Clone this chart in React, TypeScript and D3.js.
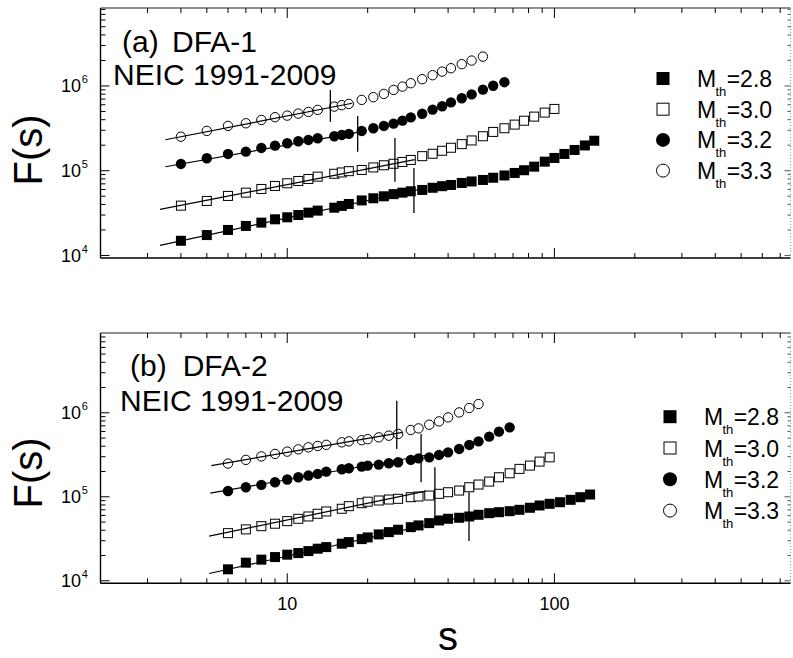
import React from 'react';
import * as d3 from 'd3';

const FONT = "'Liberation Sans', Arial, Helvetica, sans-serif";

// legend categories
const thresholds = ['2.8', '3.0', '3.2', '3.3'];
const markerKinds = ['filledSquare', 'openSquare', 'filledCircle', 'openCircle'];

// scale grids (s values)
const sGridA = [4, 5, 6, 7, 8, 9, 10, 11, 12, 13, 15, 16, 17, 19, 21, 23, 25, 27, 29, 32, 35, 38, 41, 45, 49, 54, 59, 65, 71, 77, 84, 92, 100, 109, 119, 130, 141];
const sGridB = [6, 7, 8, 9, 10, 11, 12, 13, 14, 16, 17, 19, 20, 22, 24, 26, 29, 31, 34, 37, 40, 44, 48, 52, 57, 62, 68, 74, 81, 88, 96, 105, 115, 125, 136];

// panel (a) DFA-1 fluctuation functions
const fA28 = [1.49e4, 1.74e4, 2.0e4, 2.23e4, 2.44e4, 2.67e4, 2.82e4, 3.0e4, 3.2e4, 3.38e4, 3.66e4, 3.84e4, 4.05e4, 4.46e4, 4.73e4, 4.99e4, 5.29e4, 5.51e4, 5.72e4, 5.93e4, 6.29e4, 6.57e4, 6.79e4, 7.17e4, 7.47e4, 7.78e4, 8.26e4, 8.79e4, 9.41e4, 1.013e5, 1.117e5, 1.279e5, 1.415e5, 1.577e5, 1.758e5, 1.987e5, 2.258e5];
const fA30 = [3.87e4, 4.4e4, 5.04e4, 5.51e4, 6.09e4, 6.61e4, 7.11e4, 7.57e4, 7.99e4, 8.51e4, 9.2e4, 9.54e4, 9.88e4, 1.021e5, 1.093e5, 1.16e5, 1.208e5, 1.269e5, 1.34e5, 1.485e5, 1.585e5, 1.72e5, 1.866e5, 2.059e5, 2.276e5, 2.552e5, 2.87e5, 3.17e5, 3.5e5, 3.89e5, 4.35e5, 4.85e5, 5.36e5];
const fA32 = [1.202e5, 1.403e5, 1.577e5, 1.679e5, 1.857e5, 1.976e5, 2.11e5, 2.228e5, 2.307e5, 2.416e5, 2.552e5, 2.643e5, 2.717e5, 2.947e5, 3.17e5, 3.376e5, 3.594e5, 3.9e5, 4.254e5, 4.705e5, 5.26e5, 5.77e5, 6.4e5, 7.17e5, 7.95e5, 9.06e5, 1.007e6, 1.108e6];
const fA33 = [2.52e5, 2.95e5, 3.38e5, 3.63e5, 3.97e5, 4.28e5, 4.47e5, 4.72e5, 4.94e5, 5.22e5, 5.71e5, 5.93e5, 6.14e5, 6.85e5, 7.37e5, 8.06e5, 8.98e5, 9.83e5, 1.078e6, 1.202e6, 1.34e6, 1.477e6, 1.62e6, 1.807e6, 1.993e6, 2.22e6];

// panel (b) DFA-2 fluctuation functions
const fB28 = [1.369e4, 1.643e4, 1.784e4, 1.916e4, 2.046e4, 2.137e4, 2.257e4, 2.41e4, 2.518e4, 2.764e4, 2.887e4, 3.134e4, 3.283e4, 3.565e4, 3.796e4, 4.053e4, 4.35e4, 4.56e4, 4.857e4, 5.226e4, 5.474e4, 5.626e4, 5.83e4, 6.107e4, 6.38e4, 6.56e4, 6.74e4, 7.0e4, 7.4e4, 7.88e4, 8.25e4, 8.62e4, 9.2e4, 9.89e4, 1.064e5];
const fB30 = [3.69e4, 4.09e4, 4.47e4, 4.78e4, 5.13e4, 5.47e4, 5.83e4, 6.28e4, 6.69e4, 7.2e4, 7.73e4, 8.39e4, 8.74e4, 9.03e4, 9.28e4, 9.46e4, 9.89e4, 1.008e5, 1.035e5, 1.085e5, 1.133e5, 1.187e5, 1.299e5, 1.399e5, 1.518e5, 1.708e5, 1.905e5, 2.149e5, 2.352e5, 2.624e5, 2.95e5];
const fB32 = [1.171e5, 1.299e5, 1.388e5, 1.49e5, 1.604e5, 1.708e5, 1.789e5, 1.875e5, 1.996e5, 2.126e5, 2.185e5, 2.288e5, 2.352e5, 2.417e5, 2.505e5, 2.574e5, 2.75e5, 2.87e5, 2.95e5, 3.15e5, 3.383e5, 3.713e5, 4.143e5, 4.57e5, 5.2e5, 5.96e5, 6.7e5];
const fB33 = [2.485e5, 2.75e5, 3.025e5, 3.24e5, 3.45e5, 3.67e5, 3.88e5, 4.03e5, 4.155e5, 4.45e5, 4.57e5, 4.72e5, 4.85e5, 5.1e5, 5.34e5, 5.6e5, 6.24e5, 6.52e5, 7.21e5, 7.9e5, 8.81e5, 1.01e6, 1.14e6, 1.271e6];

// power-law fits: [sStart, FStart, sEnd, FEnd]
const fitsA = [[3.34, 1.318e4, 32, 6.12e4], [3.34, 3.49e4, 30, 1.354e5], [3.5, 1.113e5, 19, 2.894e5], [3.5, 2.32e5, 17.5, 6.25e5]];
const fitsB = [[5.1, 1.22e4, 50, 6.17e4], [5.1, 3.4e4, 33, 1.166e5], [5.15, 1.103e5, 33, 3.12e5], [5.2, 2.35e5, 27, 5.85e5]];

// crossover markers: [s, Flow, Fhigh]
const crossA = [[29.8, 3.17e4, 1.078e5], [25.3, 7.43e4, 2.44e5], [18.35, 1.679e5, 4.43e5], [14.5, 3.77e5, 8.98e5]];
const crossB = [[47.9, 2.97e4, 1.133e5], [35.7, 5.99e4, 2.245e5], [31.7, 1.49e5, 5.6e5], [25.7, 3.71e5, 1.391e6]];

const xTickLabels = ['10', '100'];

const panelsData = [
  { tag: '(a)', method: 'DFA-1', catalog: 'NEIC 1991-2009', grid: sGridA, series: [fA28, fA30, fA32, fA33], fits: fitsA, cross: crossA },
  { tag: '(b)', method: 'DFA-2', catalog: 'NEIC 1991-2009', grid: sGridB, series: [fB28, fB30, fB32, fB33], fits: fitsB, cross: crossB },
];

const layouts = [
  { top: 8, bottom: 258, logMin: 3.97, logMax: 6.92, tagX: 122, methodX: 172, tagY: 52, catX: 113, catY: 85, legX: 663, legTextX: 697, legY0: 78.5, legDy: 30.7, fsY: 150, xLabels: false },
  { top: 333, bottom: 583.3, logMin: 3.97, logMax: 6.95, tagX: 130, methodX: 182.7, tagY: 376, catX: 120, catY: 410.7, legX: 670, legTextX: 704, legY0: 416.7, legDy: 31.3, fsY: 473, xLabels: true },
];

const LEFT = 100.5;
const RIGHT = 790.5;

function Marker({ kind, cx, cy, big }: { kind: string; cx: number; cy: number; big?: boolean }) {
  const sq = big ? 13 : 10;
  const r = big ? 7 : 5.2;
  if (kind === 'filledSquare') return <rect x={cx - sq / 2} y={cy - sq / 2} width={sq} height={sq} fill="#000" />;
  if (kind === 'openSquare') return <rect x={cx - (sq - 1) / 2} y={cy - (sq - 1) / 2} width={sq - 1} height={sq - 1} fill="#fff" stroke="#000" strokeWidth={1} />;
  if (kind === 'filledCircle') return <circle cx={cx} cy={cy} r={r} fill="#000" />;
  return <circle cx={cx} cy={cy} r={r - 0.5} fill="#fff" stroke="#000" strokeWidth={1} />;
}

function Panel({ d, L, x }: { d: any; L: any; x: any }) {
  const y = d3.scaleLog().domain([Math.pow(10, L.logMin), Math.pow(10, L.logMax)]).range([L.bottom, L.top]);
  const xTicks: { v: number; major: boolean }[] = [];
  [0, 1, 2].forEach((n) => {
    for (let k = 1; k <= 9; k++) {
      const v = k * Math.pow(10, n);
      if (v > 2.05 && v < 760) xTicks.push({ v, major: k === 1 });
    }
  });
  const yTicks: { v: number; major: boolean; n: number }[] = [];
  [3, 4, 5, 6].forEach((n) => {
    for (let k = 1; k <= 9; k++) {
      const v = k * Math.pow(10, n);
      const lv = Math.log10(v);
      if (lv > L.logMin + 0.003 && lv < L.logMax - 0.003) yTicks.push({ v, major: k === 1, n });
    }
  });
  const line = d3.line<[number, number]>().x((p) => x(p[0])).y((p) => y(p[1]));

  return (
    <g>
      {d.series.map((ser: number[], i: number) => (
        <g key={'s' + i}>
          {ser.map((f: number, j: number) => (
            <Marker key={j} kind={markerKinds[i]} cx={x(d.grid[j])} cy={y(f)} />
          ))}
        </g>
      ))}
      {d.fits.map((ft: number[], i: number) => (
        <path key={'f' + i} d={line([[ft[0], ft[1]], [ft[2], ft[3]]]) || ''} stroke="#000" strokeWidth={1.2} fill="none" />
      ))}
      {d.cross.map((c: number[], i: number) => (
        <line key={'c' + i} x1={x(c[0])} x2={x(c[0])} y1={y(c[1])} y2={y(c[2])} stroke="#000" strokeWidth={1.3} />
      ))}

      <line x1={LEFT} x2={RIGHT} y1={L.top} y2={L.top} stroke="#222" strokeWidth={1.2} />
      <line x1={LEFT} x2={RIGHT} y1={L.bottom} y2={L.bottom} stroke="#000" strokeWidth={1.4} />
      <line x1={LEFT} x2={LEFT} y1={L.top} y2={L.bottom} stroke="#000" strokeWidth={1.4} />
      <line x1={RIGHT} x2={RIGHT} y1={L.top} y2={L.bottom} stroke="#999" strokeWidth={1} strokeDasharray="1 2" />

      {xTicks.map((t, i) => {
        const xx = x(t.v);
        const len = t.major ? 10 : 5;
        return (
          <g key={'xt' + i}>
            <line x1={xx} x2={xx} y1={L.bottom} y2={L.bottom - len} stroke="#000" strokeWidth={1} />
            <line x1={xx} x2={xx} y1={L.top} y2={L.top + len} stroke="#000" strokeWidth={1} />
          </g>
        );
      })}
      {yTicks.map((t, i) => {
        const yy = y(t.v);
        const len = t.major ? 9 : 5;
        return (
          <g key={'yt' + i}>
            <line x1={LEFT} x2={LEFT + len} y1={yy} y2={yy} stroke="#000" strokeWidth={1} />
            <line x1={RIGHT} x2={RIGHT - (t.major ? 6 : 3)} y1={yy} y2={yy} stroke="#555" strokeWidth={1} />
          </g>
        );
      })}
      {yTicks.filter((t) => t.major).map((t, i) => {
        const yy = y(t.v);
        return (
          <g key={'yl' + i} fontFamily={FONT} fill="#000">
            <text x={81} y={yy + 6.5} style={{ fontSize: '18px' }} textAnchor="end">10</text>
            <text x={81.8} y={yy - 2.5} style={{ fontSize: '11px' }}>{t.n}</text>
          </g>
        );
      })}
      {L.xLabels && xTicks.filter((t) => t.major).map((t, i) => (
        <text key={'xl' + i} x={x(t.v)} y={610} style={{ fontSize: '18px' }} textAnchor="middle" fontFamily={FONT}>{xTickLabels[i]}</text>
      ))}

      <text x={L.tagX} y={L.tagY} style={{ fontSize: '30px' }} fontFamily={FONT}>{d.tag}</text>
      <text x={L.methodX} y={L.tagY} style={{ fontSize: '30px' }} fontFamily={FONT}>{d.method}</text>
      <text x={L.catX} y={L.catY} style={{ fontSize: '30px' }} fontFamily={FONT}>{d.catalog}</text>

      <text transform={`translate(42,${L.fsY}) rotate(-90)`} style={{ fontSize: '40px' }} textAnchor="middle" fontFamily={FONT}>F(s)</text>

      {thresholds.map((th, i) => {
        const cy = L.legY0 + i * L.legDy;
        return (
          <g key={'lg' + i} fontFamily={FONT} fill="#000">
            <Marker kind={markerKinds[i]} cx={L.legX} cy={cy} big />
            <text x={L.legTextX} y={cy + 8.5} style={{ fontSize: '23px' }}>M</text>
            <text x={L.legTextX + 18.5} y={cy + 17.5} style={{ fontSize: '13px' }}>th</text>
            <text x={L.legTextX + 29.7} y={cy + 8.5} style={{ fontSize: '23px' }}>{'=' + th}</text>
          </g>
        );
      })}
    </g>
  );
}

export default function App() {
  const x = d3.scaleLog().domain([2, 765]).range([LEFT, RIGHT]);
  return (
    <svg width={793} height={658} style={{ position: 'absolute', left: 0, top: 0, background: '#fff' }}>
      <rect x={0} y={0} width={793} height={658} fill="#fff" />
      {panelsData.map((d, i) => (
        <Panel key={i} d={d} L={layouts[i]} x={x} />
      ))}
      <text x={448} y={650} style={{ fontSize: '40px' }} textAnchor="middle" fontFamily={FONT}>s</text>
    </svg>
  );
}
